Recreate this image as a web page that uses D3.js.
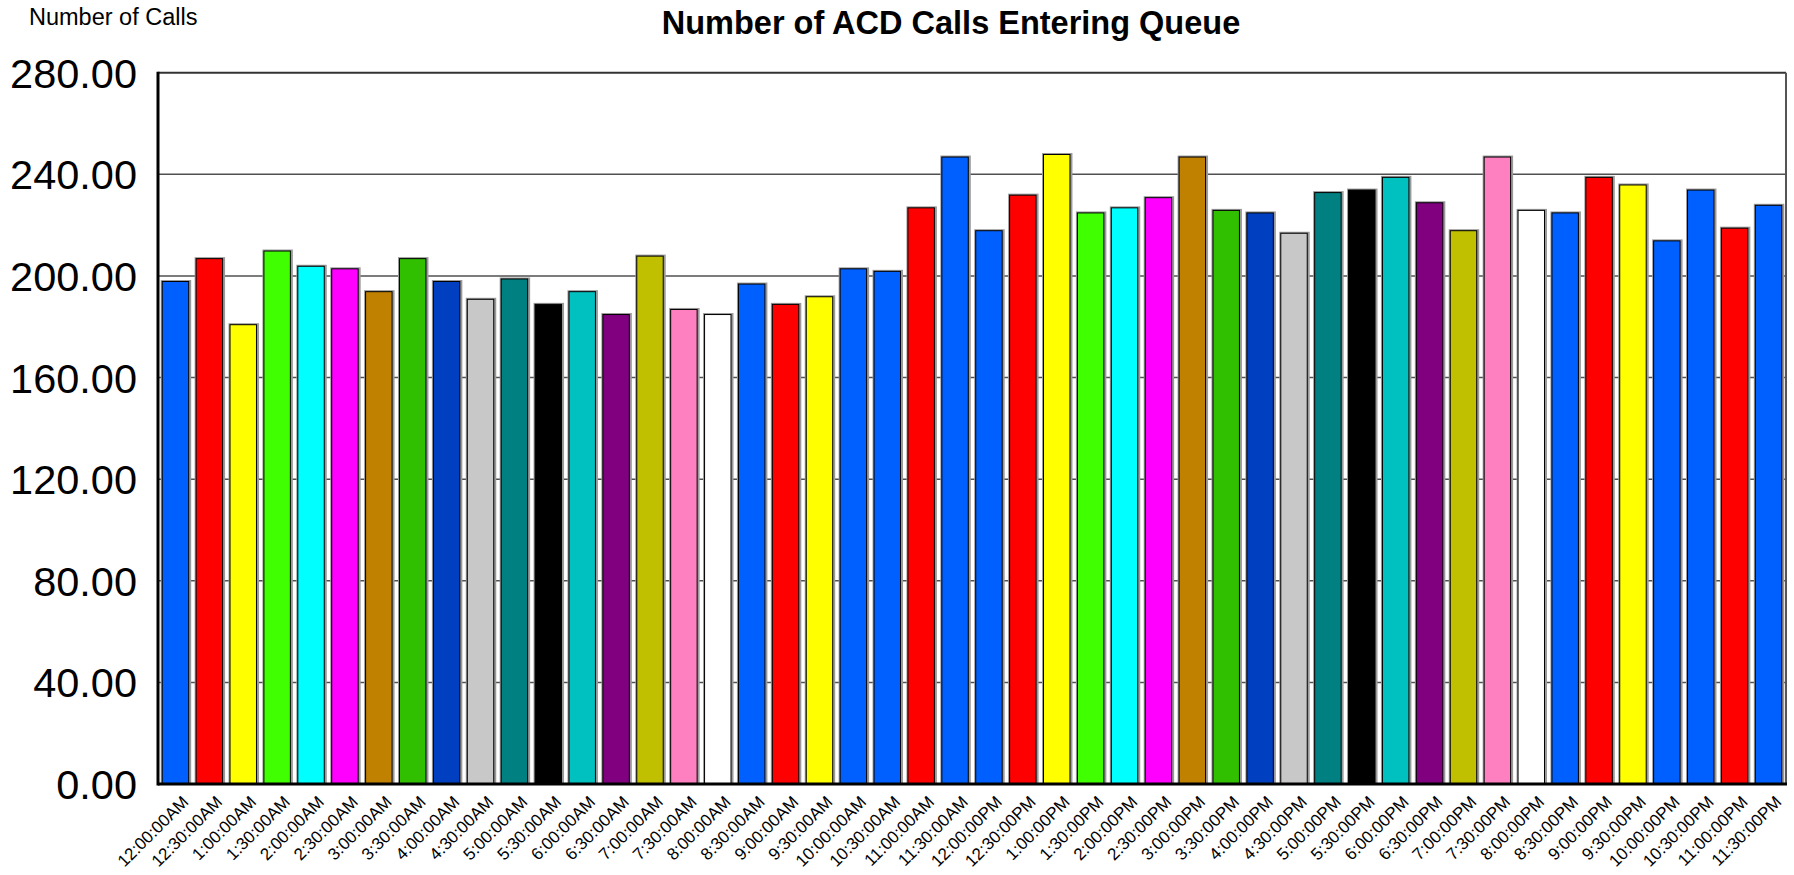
<!DOCTYPE html>
<html><head><meta charset="utf-8">
<script src="https://cdn.jsdelivr.net/npm/d3@7"></script>
<style>body{margin:0;background:#fff;overflow:hidden}</style>
</head><body><svg id="c" width="1794" height="875"></svg>
<script>
const categories = ["12:00:00AM","12:30:00AM","1:00:00AM","1:30:00AM","2:00:00AM","2:30:00AM","3:00:00AM","3:30:00AM","4:00:00AM","4:30:00AM","5:00:00AM","5:30:00AM","6:00:00AM","6:30:00AM","7:00:00AM","7:30:00AM","8:00:00AM","8:30:00AM","9:00:00AM","9:30:00AM","10:00:00AM","10:30:00AM","11:00:00AM","11:30:00AM","12:00:00PM","12:30:00PM","1:00:00PM","1:30:00PM","2:00:00PM","2:30:00PM","3:00:00PM","3:30:00PM","4:00:00PM","4:30:00PM","5:00:00PM","5:30:00PM","6:00:00PM","6:30:00PM","7:00:00PM","7:30:00PM","8:00:00PM","8:30:00PM","9:00:00PM","9:30:00PM","10:00:00PM","10:30:00PM","11:00:00PM","11:30:00PM"];
const values = [198,207,181,210,204,203,194,207,198,191,199,189,194,185,208,187,185,197,189,192,203,202,227,247,218,232,248,225,227,231,247,226,225,217,233,234,239,229,218,247,226,225,239,236,214,234,219,228];
const palette = ["#0060FF","#FF0000","#FFFF00","#40FF00","#00FFFF","#FF00FF","#C08000","#30C000","#0040C0","#C8C8C8","#008080","#000000","#00C0C0","#800080","#C0C000","#FF80C0","#FFFFFF","#0060FF","#FF0000","#FFFF00","#0060FF","#0060FF","#FF0000","#0060FF"];
const yTicks = [0,40,80,120,160,200,240,280];
const title = "Number of ACD Calls Entering Queue";
const yTitle = "Number of Calls";

const FONT = "'Liberation Sans', Arial, Helvetica, sans-serif";
const svg = d3.select("#c");
const L = 158, R = 1786, T = 72.7, B = 784;

const x = d3.scaleBand().domain(categories).range([L, R]).paddingInner(0.19).paddingOuter(0.11);
const y = d3.scaleLinear().domain([0, 280]).range([B, T]);

// title texts
svg.append("text").attr("x", 951).attr("y", 34).attr("text-anchor", "middle")
  .attr("font-family", FONT).attr("font-weight", "bold").attr("font-size", 32.5).text(title);
svg.append("text").attr("x", 29).attr("y", 25)
  .attr("font-family", FONT).attr("font-size", 23.5).text(yTitle);

// gridlines
svg.append("g").selectAll("line").data(yTicks.filter(d => d > 0 && d < 280)).join("line")
  .attr("x1", L).attr("x2", R).attr("y1", d => y(d)).attr("y2", d => y(d))
  .attr("stroke", "#505050").attr("stroke-width", 1.5);

// y axis labels
const yAxis = svg.append("g").attr("transform", `translate(${L},0)`)
  .call(d3.axisLeft(y).tickValues(yTicks).tickFormat(d3.format(".2f")).tickSize(0).tickPadding(21));
yAxis.select(".domain").remove();
yAxis.selectAll("text").attr("font-family", FONT).attr("font-size", 41.5).attr("fill", "#000").attr("dy", "0.35em");

// bars: halo + bar
const bars = svg.append("g");
bars.selectAll("rect.sh").data(values).join("rect").attr("class", "sh")
  .attr("x", (d, i) => x(categories[i]) - 1).attr("y", d => y(d) - 1)
  .attr("width", x.bandwidth() + 3).attr("height", d => B - y(d) + 1)
  .attr("fill", "#9a9a9a");
bars.selectAll("rect.b").data(values).join("rect").attr("class", "b")
  .attr("x", (d, i) => x(categories[i]) + 0.5).attr("y", d => y(d) + 0.5)
  .attr("width", x.bandwidth() - 1).attr("height", d => B - y(d) - 0.5)
  .attr("fill", (d, i) => palette[i % palette.length])
  .attr("stroke", "#000").attr("stroke-width", 1);

// frame
svg.append("line").attr("x1", L).attr("x2", R).attr("y1", T).attr("y2", T).attr("stroke", "#333").attr("stroke-width", 2);
svg.append("line").attr("x1", R).attr("x2", R).attr("y1", T).attr("y2", B).attr("stroke", "#555").attr("stroke-width", 2);
svg.append("line").attr("x1", L).attr("x2", L).attr("y1", T - 1).attr("y2", B + 1.5).attr("stroke", "#000").attr("stroke-width", 3);
svg.append("line").attr("x1", L).attr("x2", R + 1).attr("y1", B).attr("y2", B).attr("stroke", "#000").attr("stroke-width", 3);

// x axis labels
const xAxis = svg.append("g").attr("transform", `translate(0,${B})`)
  .call(d3.axisBottom(x).tickSize(0).tickPadding(0));
xAxis.select(".domain").remove();
xAxis.selectAll("text").attr("font-family", FONT).attr("font-size", 17).attr("fill", "#000")
  .attr("text-anchor", "end").attr("y", 0).attr("dy", 0)
  .attr("transform", "translate(14,19) rotate(-45)");
</script>
</body></html>
